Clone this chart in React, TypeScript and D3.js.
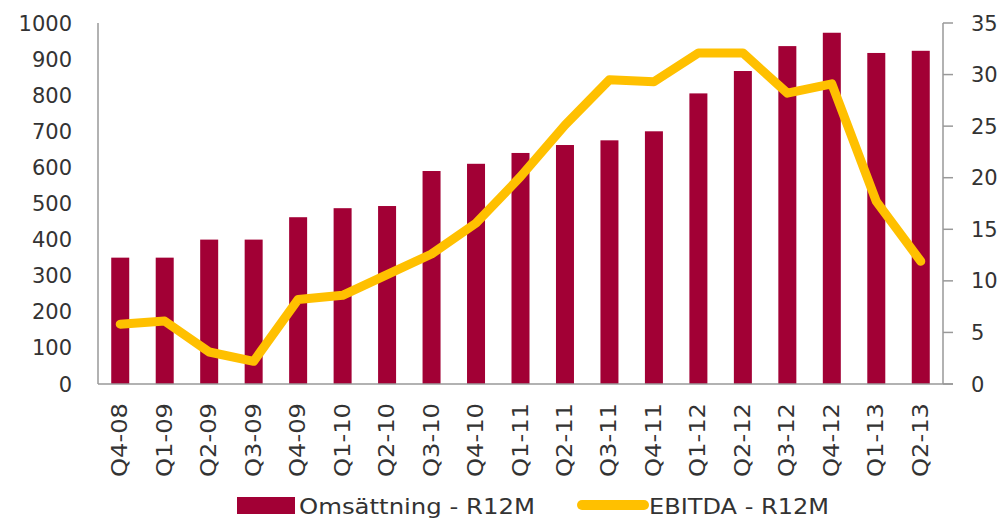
import React, { useEffect, useRef } from "react";
import * as d3 from "d3";

const categories = ["Q4-08","Q1-09","Q2-09","Q3-09","Q4-09","Q1-10","Q2-10","Q3-10","Q4-10","Q1-11","Q2-11","Q3-11","Q4-11","Q1-12","Q2-12","Q3-12","Q4-12","Q1-13","Q2-13"];
const omsattning = [350,350,400,400,462,487,493,590,610,640,662,675,700,805,867,936,973,917,923];
const ebitda = [5.8,6.1,3.1,2.2,8.2,8.6,10.6,12.6,15.6,20.1,25.1,29.5,29.3,32.1,32.1,28.2,29.1,17.7,11.9];
const leftTicks = [0,100,200,300,400,500,600,700,800,900,1000];
const rightTicks = [0,5,10,15,20,25,30,35];
const seriesNames = ["Omsättning - R12M", "EBITDA - R12M"];

const W = 1005, H = 518;
const M = { left: 98, right: 943, top: 23, bottom: 384 };
const BAR = "#A20035";
const LINE = "#FFC000";
const FONT = "DejaVu Sans";

export default function App() {
  const ref = useRef<SVGSVGElement>(null);
  useEffect(() => {
    const svg = d3.select(ref.current);
    svg.selectAll("*").remove();
    const x = d3.scaleBand().domain(categories).range([M.left, M.right]).paddingInner(0.6).paddingOuter(0.3);
    const xc = (c: string) => (x(c) as number) + x.bandwidth() / 2;
    const yL = d3.scaleLinear().domain([0, 1000]).range([M.bottom, M.top]);
    const yR = d3.scaleLinear().domain([0, 35]).range([M.bottom, M.top]);

    // bars
    svg.append("g").selectAll("rect").data(omsattning).join("rect")
      .attr("x", (_, i) => xc(categories[i]) - 9)
      .attr("width", 18)
      .attr("y", d => yL(d))
      .attr("height", d => yL(0) - yL(d))
      .attr("fill", BAR);

    // axes lines
    svg.append("line").attr("x1", M.left).attr("x2", M.left).attr("y1", M.top).attr("y2", M.bottom).attr("stroke", "#999").attr("stroke-width", 1.5);
    svg.append("line").attr("x1", M.right).attr("x2", M.right).attr("y1", M.top).attr("y2", M.bottom).attr("stroke", "#999").attr("stroke-width", 1.5);
    svg.append("line").attr("x1", M.left).attr("x2", M.right + 10).attr("y1", M.bottom).attr("y2", M.bottom).attr("stroke", "#999").attr("stroke-width", 1.5);

    // right ticks
    svg.append("g").selectAll("line").data(rightTicks).join("line")
      .attr("x1", M.right).attr("x2", M.right + 10)
      .attr("y1", d => yR(d)).attr("y2", d => yR(d))
      .attr("stroke", "#999").attr("stroke-width", 1.5);

    // line
    const line = d3.line<number>().x((_, i) => xc(categories[i])).y(d => yR(d));
    svg.append("path").datum(ebitda).attr("d", line)
      .attr("fill", "none").attr("stroke", LINE).attr("stroke-width", 9)
      .attr("stroke-linejoin", "round").attr("stroke-linecap", "round");

    // left tick labels
    svg.append("g").selectAll("text").data(leftTicks).join("text")
      .attr("x", 72).attr("y", d => yL(d)).attr("dy", "0.36em")
      .attr("text-anchor", "end").attr("font-family", FONT).attr("font-size", 21).attr("fill", "#333")
      .text(d => String(d));
    // right tick labels
    svg.append("g").selectAll("text").data(rightTicks).join("text")
      .attr("x", 971).attr("y", d => yR(d)).attr("dy", "0.36em")
      .attr("text-anchor", "start").attr("font-family", FONT).attr("font-size", 21).attr("fill", "#333")
      .text(d => String(d));
    // x labels
    svg.append("g").selectAll("text").data(categories).join("text")
      .attr("transform", c => `translate(${xc(c) + 7},403) rotate(-90)`)
      .attr("text-anchor", "end").attr("font-family", FONT).attr("font-size", 21).attr("fill", "#333")
      .attr("textLength", 74).attr("lengthAdjust", "spacingAndGlyphs")
      .text(c => c);

    // legend
    const lg = svg.append("g");
    lg.append("rect").attr("x", 237).attr("y", 497).attr("width", 58).attr("height", 17).attr("fill", BAR);
    lg.append("text").attr("x", 299).attr("y", 506).attr("dy", "0.36em").attr("font-family", FONT).attr("font-size", 21).attr("fill", "#333")
      .attr("textLength", 236).attr("lengthAdjust", "spacingAndGlyphs").text(seriesNames[0]);
    lg.append("line").attr("x1", 582).attr("x2", 644).attr("y1", 505).attr("y2", 505).attr("stroke", LINE).attr("stroke-width", 10).attr("stroke-linecap", "round");
    lg.append("text").attr("x", 649).attr("y", 506).attr("dy", "0.36em").attr("font-family", FONT).attr("font-size", 21).attr("fill", "#333")
      .attr("textLength", 180).attr("lengthAdjust", "spacingAndGlyphs").text(seriesNames[1]);
  }, []);
  return (
    <svg ref={ref} width={W} height={H} style={{ position: "absolute", left: 0, top: 0, background: "#fff" }} />
  );
}
